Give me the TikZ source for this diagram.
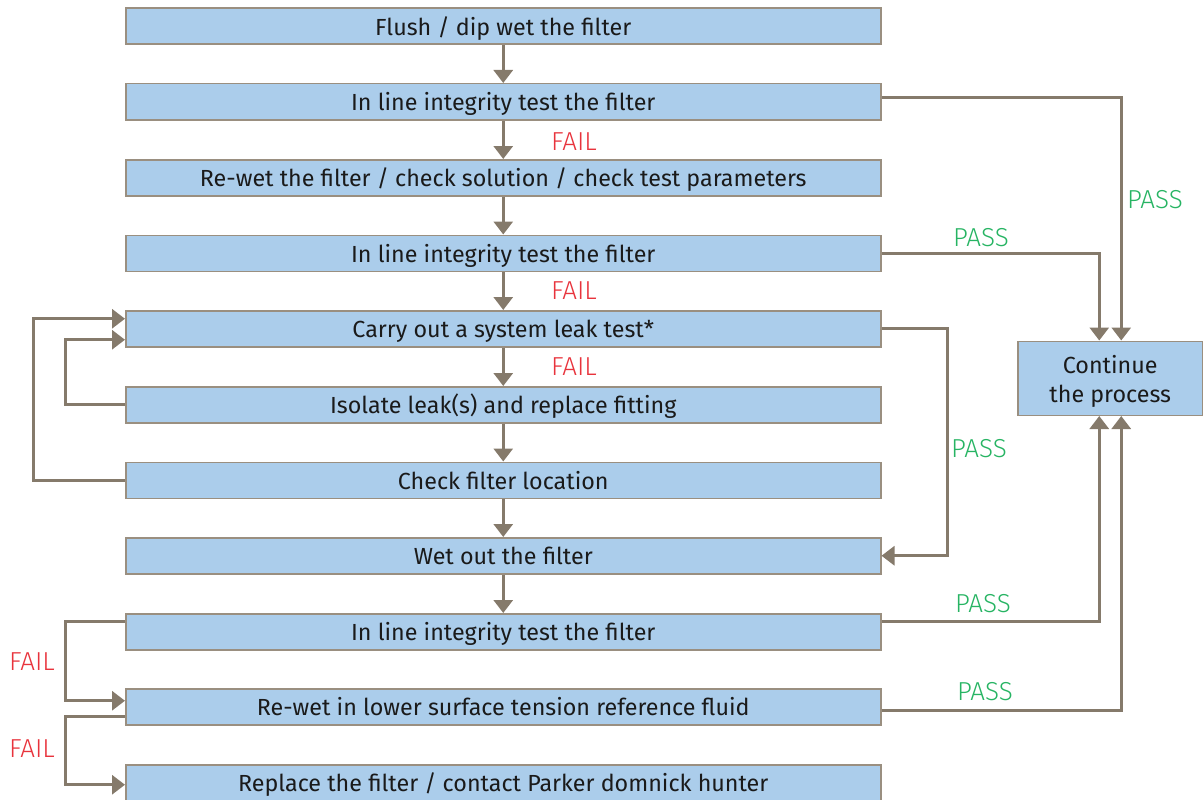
\documentclass[tikz,border=0pt]{standalone}
\usepackage{fontspec}
\setmainfont{Fira Sans}
\newfontfamily\lightfont{Fira Sans Light}
\usetikzlibrary{arrows.meta}
\definecolor{boxfill}{HTML}{ABCDEB}
\definecolor{boxline}{HTML}{9A8F80}
\definecolor{arr}{HTML}{857A6B}
\definecolor{failred}{HTML}{E8333C}
\definecolor{passgreen}{HTML}{27B463}
\definecolor{txt}{HTML}{1A1A1A}
\begin{document}
\begin{tikzpicture}[x=1pt,y=-1pt,
  stepbox/.style={draw=boxline, line width=1.5pt, fill=boxfill, minimum width=755pt,
    minimum height=36pt, inner sep=0pt, anchor=north west, text=txt,
    text height=22pt, text depth=4pt,
    font=\fontsize{23.3}{26}\selectfont},
  endbox/.style={draw=boxline, line width=1.5pt, fill=boxfill, minimum width=185pt,
    minimum height=74pt, inner sep=0pt, anchor=north west},
  endtext/.style={text=txt, align=center, inner sep=0pt,
    font=\fontsize{23.3}{29}\selectfont},
  conn/.style={draw=arr, line width=3pt, -{Triangle[width=19pt,length=13pt]}},
  faillbl/.style={text=failred, font=\lightfont\fontsize{26}{28}\selectfont},
  passlbl/.style={text=passgreen, font=\lightfont\fontsize{26}{28}\selectfont}]
\useasboundingbox (0,0) rectangle (1203,800);
\node[stepbox] (b1)  at (125,7.5)   {Flush / dip wet the filter};
\node[stepbox] (b2)  at (125,83)    {In line integrity test the filter};
\node[stepbox] (b3)  at (125,159)   {Re-wet the filter / check solution / check test parameters};
\node[stepbox] (b4)  at (125,234.5) {In line integrity test the filter};
\node[stepbox] (b5)  at (125,310)   {Carry out a system leak test*};
\node[stepbox] (b6)  at (125,386)   {Isolate leak(s) and replace fitting};
\node[stepbox] (b7)  at (125,461.5) {Check filter location};
\node[stepbox] (b8)  at (125,537)   {Wet out the filter};
\node[stepbox] (b9)  at (125,613)   {In line integrity test the filter};
\node[stepbox] (b10) at (125,688)   {Re-wet in lower surface tension reference fluid};
\node[stepbox] (b11) at (125,764)   {Replace the filter / contact Parker domnick hunter};
\node[endbox] (cont) at (1017,340.5) {};
\node[endtext] (contt) at ([yshift=-3pt]cont.center) {Continue\\the process};

\foreach \a/\b in {b1/b2,b2/b3,b3/b4,b4/b5,b5/b6,b6/b7,b7/b8,b8/b9}
  \draw[conn] (\a.south) -- (\b.north);

% right side
\draw[conn] ([yshift=4pt]b2.east) -| ([xshift=11pt]cont.north);
\draw[conn] (b4.east) -| ([xshift=-11pt]cont.north);
\draw[conn] (b5.east) -- ++(66,0) |- (b8.east);
\draw[conn] ([yshift=10pt]b9.east) -| ([xshift=-11pt]cont.south);
\draw[conn] ([yshift=-4pt]b10.east) -| ([xshift=11pt]cont.south);

% left loops
\draw[conn] (b6.west) -- ++(-60,0) |- ([yshift=-11pt]b5.west);
\draw[conn] (b7.west) -- ++(-92,0) |- ([yshift=10pt]b5.west);
\draw[conn] ([yshift=10pt]b9.west) -- ++(-60,0) |- ([yshift=6pt]b10.west);
\draw[conn] ([yshift=-10pt]b10.west) -- ++(-60,0) |- ([yshift=-2pt]b11.west);

% labels
\node[faillbl] (f1) at (574,142) {FAIL};
\node[faillbl] (f2) at (574,291) {FAIL};
\node[faillbl] (f3) at (574,367) {FAIL};
\node[faillbl] (f4) at (32,662) {FAIL};
\node[faillbl] (f5) at (32,749) {FAIL};
\node[passlbl] (p1) at (1155,200) {PASS};
\node[passlbl] (p2) at (981,238) {PASS};
\node[passlbl] (p3) at (979,449) {PASS};
\node[passlbl] (p4) at (983,604) {PASS};
\node[passlbl] (p5) at (985,692) {PASS};
\end{tikzpicture}
\end{document}
